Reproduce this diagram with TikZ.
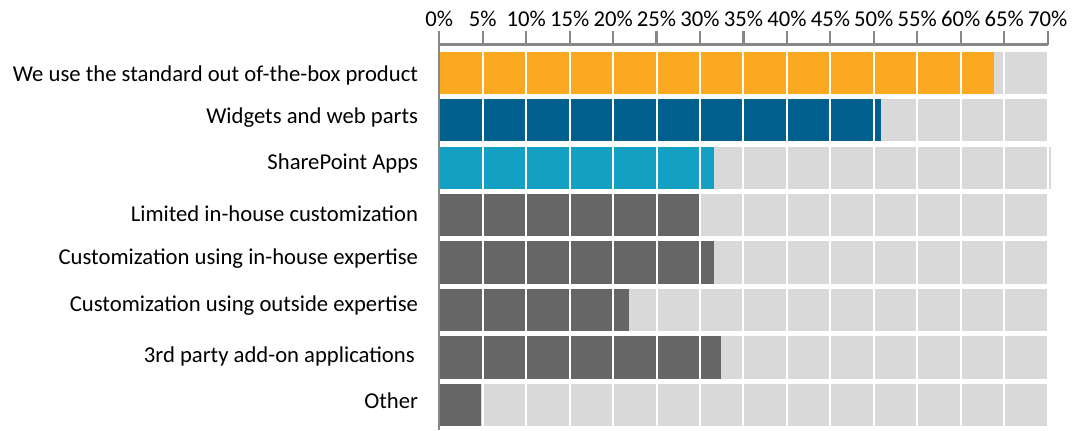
\documentclass[tikz,border=0pt]{standalone}
\usepackage{fontspec}
\setmainfont{Carlito}
\definecolor{cOrange}{HTML}{FCA922}
\definecolor{cNavy}{HTML}{015F8D}
\definecolor{cTeal}{HTML}{14A0C2}
\definecolor{cDark}{HTML}{666666}
\definecolor{cBack}{HTML}{D9D9D9}
\definecolor{cAxis}{HTML}{878787}
\tikzset{
  lbl/.style={anchor=base east, inner sep=0pt, font=\fontsize{17}{20}\selectfont},
  ticklbl/.style={anchor=base, inner sep=0pt, font=\fontsize{17}{20}\selectfont},
  axisline/.style={draw=cAxis, line width=1.6pt},
  gridsep/.style={draw=white, line width=1.5pt},
}
\begin{document}
\begin{tikzpicture}[x=0.75pt,y=-0.75pt]
\useasboundingbox (0,0) rectangle (1073,430);
\def\xo{439.3}
\def\dx{8.69}   % px per percent
% rows: index/value/colour/label baseline/label right edge/label
\foreach \i/\v/\c/\yb/\xr/\t in {
  0/63.8/cOrange/81.7/418.3/{We use the standard out of-the-box product},
  1/50.8/cNavy/123.3/418.3/{Widgets and web parts},
  2/31.6/cTeal/169.3/418.3/{SharePoint Apps},
  3/29.9/cDark/221.7/418.3/{Limited in-house customization},
  4/31.6/cDark/264/418.3/{Customization using in-house expertise},
  5/21.8/cDark/311.7/418.3/{Customization using outside expertise},
  6/32.4/cDark/362.7/415/{3rd party add-on applications},
  7/4.8/cDark/408.3/418.3/{Other}} {
  \pgfmathsetmacro{\ytop}{51.7+47.43*\i}
  \pgfmathsetmacro{\ybot}{\ytop+42.3}
  \pgfmathsetmacro{\xend}{\xo+\dx*\v}
  \fill[cBack] (\xo,\ytop) rectangle (1047.6,\ybot);
  \fill[\c] (\xo,\ytop) rectangle (\xend,\ybot);
  \node[lbl] (row\i) at (\xr,\yb) {\t};
}
% slight overhang of the SharePoint Apps row
\fill[cBack] (1047.6,146.6) rectangle (1051,188.9);
% white separators at every 5%
\foreach \k in {1,...,14} {
  \pgfmathsetmacro{\xx}{\xo+43.45*\k}
  \draw[gridsep] (\xx,47) -- (\xx,430);
}
% axis
\draw[axisline] (\xo,44.5) -- (1047.6,44.5);
\draw[axisline] (\xo,31) -- (\xo,430);
\foreach \k in {0,...,14} {
  \pgfmathsetmacro{\xx}{\xo+43.45*\k}
  \pgfmathtruncatemacro{\pc}{5*\k}
  \draw[axisline] (\xx,31) -- (\xx,44.5);
  \node[ticklbl] (tick\k) at (\xx,26) {\pc\%};
}
\end{tikzpicture}
\end{document}
